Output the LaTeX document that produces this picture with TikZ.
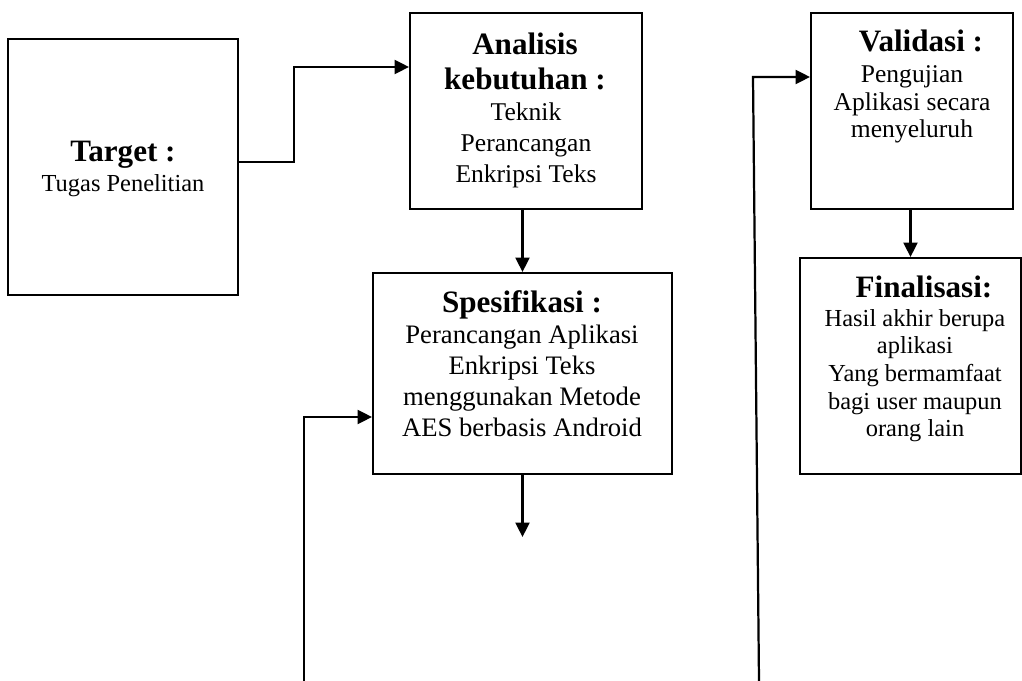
\documentclass[tikz,border=0pt]{standalone}
\usepackage{fontspec}
\setmainfont{Liberation Serif}
\usetikzlibrary{arrows.meta,fit}
\begin{document}
\begin{tikzpicture}[x=0.45pt,y=-0.45pt,
  box/.style={draw, line width=0.9pt, inner sep=0pt, rectangle},
  arr/.style={line width=1pt, -{Triangle[length=6.5pt,width=6.3pt]}},
  ttl/.style={anchor=base, inner sep=0pt, font=\fontsize{14}{16}\selectfont\bfseries},
  txt/.style={anchor=base, inner sep=0pt, font=\fontsize{11}{13}\selectfont},
  txtb/.style={anchor=base, inner sep=0pt, font=\fontsize{11.5}{13}\selectfont},
  txtc/.style={anchor=base, inner sep=0pt, font=\fontsize{12}{14}\selectfont},
]
\path[use as bounding box, fill=white] (0,0) rectangle (1022,681);

% boxes
\node[box, fit={(8,39)(238,295)}] (tgt) {};
\node[box, fit={(410,13)(642,209)}] (ana) {};
\node[box, fit={(373,273)(672,474)}] (spe) {};
\node[box, fit={(811,13)(1013,209)}] (val) {};
\node[box, fit={(800,258)(1021,474)}] (fin) {};

% Target
\node[ttl] (tgtT) at (123,162) {Target :};
\node[txt] (tgt1) at (123,192) {Tugas Penelitian};

% Analisis kebutuhan
\node[ttl] (anaT1) at (525,55) {Analisis};
\node[ttl] (anaT2) at (525,90) {kebutuhan :};
\foreach \s [count=\i] in {Teknik, Perancangan, Enkripsi Teks}
  \node[txtb] (ana\i) at (526,{90+31*\i}) {\s};

% Spesifikasi
\node[ttl] (speT) at (522,313) {Spesifikasi :};
\foreach \s [count=\i] in {Perancangan Aplikasi, Enkripsi Teks, menggunakan Metode, AES berbasis Android}
  \node[txtc] (spe\i) at (522,{313+31*\i}) {\s};

% Validasi
\node[ttl] (valT) at (921,52) {Validasi :};
\foreach \s [count=\i] in {Pengujian, Aplikasi secara, menyeluruh}
  \node[txtb] (val\i) at (912,{55.5+27.5*\i}) {\s};

% Finalisasi
\node[ttl] (finT) at (924,298) {Finalisasi:};
\foreach \s [count=\i] in {Hasil akhir berupa, aplikasi, Yang bermamfaat, bagi user maupun, orang lain}
  \node[txt] (fin\i) at (915,{298.5+27.7*\i}) {\s};

% connectors
\coordinate (k1) at (294,162);
\coordinate (k2) at (294,67);
\draw[arr] (tgt.east |- k1) -- (k1) -- (k2) -- (ana.west |- k2);

\draw[arr] (ana.south -| spe.north) -- (spe.north);

\coordinate (sd) at (522.5,537);
\draw[arr] (spe.south) -- (sd);

\coordinate (fb1) at (304,681);
\coordinate (fb2) at (304,417);
\draw[arr] (fb1) -- (fb2) -- (spe.west |- fb2);

\coordinate (rb1) at (759,681);
\coordinate (rb2) at (753,77);
\draw[arr] (rb1) -- (rb2) -- (val.west |- rb2);

\draw[arr] (val.south -| fin.north) -- (fin.north);
\end{tikzpicture}
\end{document}
